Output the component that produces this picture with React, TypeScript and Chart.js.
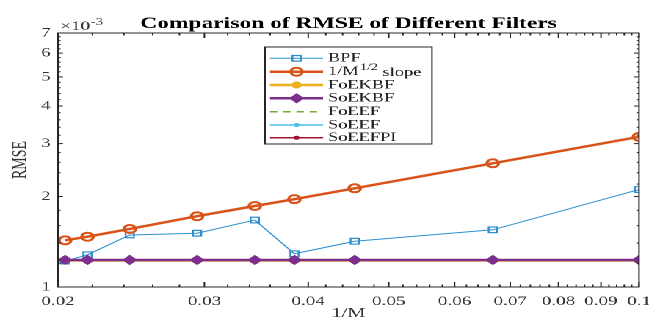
import React, { useEffect, useRef } from "react";
import { Chart, registerables } from "chart.js";

Chart.register(...registerables);

// ---- data (RMSE in units of 1e-3) ----
const invM = [0.0204, 0.0217, 0.0244, 0.0294, 0.0345, 0.0385, 0.0455, 0.0667, 0.1];
const bpf = [1.22, 1.28, 1.49, 1.51, 1.67, 1.29, 1.42, 1.55, 2.11];
const slope = [1.43, 1.47, 1.56, 1.72, 1.86, 1.96, 2.13, 2.58, 3.16];
const foekbf = [1.225, 1.225, 1.225, 1.225, 1.225, 1.225, 1.225, 1.225, 1.225];
const soekbf = [1.23, 1.23, 1.23, 1.23, 1.23, 1.23, 1.23, 1.23, 1.23];
const foeef = [1.23, 1.23, 1.23, 1.23, 1.23, 1.23, 1.23, 1.23, 1.23];
const soeef = [1.23, 1.23, 1.23, 1.23, 1.23, 1.23, 1.23, 1.23, 1.23];
const soeefpi = [1.23, 1.23, 1.23, 1.23, 1.23, 1.23, 1.23, 1.23, 1.23];

const seriesLabels = ["BPF", "1/M^1/2 slope", "FoEKBF", "SoEKBF", "FoEEF", "SoEEF", "SoEEFPI"];
const xTicks = [0.02, 0.03, 0.04, 0.05, 0.06, 0.07, 0.08, 0.09, 0.1];
const xTickLabels = ["0.02", "0.03", "0.04", "0.05", "0.06", "0.07", "0.08", "0.09", "0.1"];
const yTicks = [1, 2, 3, 4, 5, 6, 7];
const yTickLabels = ["1", "2", "3", "4", "5", "6", "7"];

// minor tick positions (axis decoration only)
const xMinor: number[] = [];
for (let i = 10; i < 50; i++) if (i % 5 !== 0) xMinor.push(i * 0.002);
const yMinor: number[] = [];
for (let i = 5; i < 35; i++) if (i % 5 !== 0) yMinor.push(i * 0.2);

const W = 442;
const H = 320;
const SX = 649 / W;
const FONT = '"Liberation Serif", "DejaVu Serif", serif';
const AX = "#262626";

const pts = (ys: number[]) => invM.map((x, i) => ({ x, y: ys[i] }));

const decor = {
  id: "decor",
  afterDraw(chart: any) {
    const ctx = chart.ctx as CanvasRenderingContext2D;
    const a = chart.chartArea;
    const xs = chart.scales.x;
    const ys = chart.scales.y;
    ctx.save();
    ctx.strokeStyle = AX;
    ctx.lineWidth = 1;
    ctx.strokeRect(a.left, a.top, a.right - a.left, a.bottom - a.top);
    const seg = (x1: number, y1: number, x2: number, y2: number) => {
      ctx.beginPath();
      ctx.moveTo(x1, y1);
      ctx.lineTo(x2, y2);
      ctx.stroke();
    };
    xTicks.forEach((v) => {
      const p = xs.getPixelForValue(v);
      seg(p, a.bottom, p, a.bottom - 5);
      seg(p, a.top, p, a.top + 5);
    });
    xMinor.forEach((v) => {
      const p = xs.getPixelForValue(v);
      seg(p, a.bottom, p, a.bottom - 2.5);
      seg(p, a.top, p, a.top + 2.5);
    });
    yTicks.forEach((v) => {
      const p = ys.getPixelForValue(v);
      seg(a.left, p, a.left + 3.4, p);
      seg(a.right, p, a.right - 3.4, p);
    });
    yMinor.forEach((v) => {
      const p = ys.getPixelForValue(v);
      seg(a.left, p, a.left + 1.8, p);
      seg(a.right, p, a.right - 1.8, p);
    });

    // title
    ctx.fillStyle = "#000";
    ctx.textAlign = "center";
    ctx.textBaseline = "alphabetic";
    ctx.font = `bold 16px ${FONT}`;
    ctx.fillText("Comparison of RMSE of Different Filters", (a.left + a.right) / 2, 28);

    // exponent
    ctx.fillStyle = "#333";
    ctx.textAlign = "left";
    ctx.font = `13px ${FONT}`;
    ctx.fillText("\u00d710", 41, 30);
    const w10 = ctx.measureText("\u00d710").width;
    ctx.font = `10px ${FONT}`;
    ctx.fillText("-3", 41 + w10 + 0.5, 25);

    // axis titles
    ctx.font = `14px ${FONT}`;
    ctx.textAlign = "center";
    ctx.fillText("1/M", (a.left + a.right) / 2, 317);
    ctx.save();
    ctx.translate(14, (a.top + a.bottom) / 2);
    ctx.rotate(-Math.PI / 2);
    ctx.textBaseline = "middle";
    ctx.fillText("RMSE", 0, 0);
    ctx.restore();

    // legend
    const lx0 = 180.5, lx1 = 294.2, ly0 = 47, ly1 = 144;
    ctx.fillStyle = "#fff";
    ctx.fillRect(lx0, ly0, lx1 - lx0, ly1 - ly0);
    ctx.strokeStyle = AX;
    ctx.lineWidth = 1;
    ctx.strokeRect(lx0, ly0, lx1 - lx0, ly1 - ly0);
    const rowY = [58.3, 71.7, 85, 98.3, 111.7, 125, 137.7];
    const byLabel: any = {};
    chart.data.datasets.forEach((d: any) => (byLabel[d.label] = d));
    seriesLabels.forEach((lab, i) => {
      const d = byLabel[lab];
      const y = rowY[i];
      ctx.save();
      ctx.strokeStyle = d.borderColor;
      ctx.lineWidth = d.borderWidth;
      ctx.setLineDash(d.borderDash || []);
      seg(183.9, y, 220, y);
      ctx.setLineDash([]);
      drawMarker(ctx, d, 202, y);
      ctx.restore();
      ctx.fillStyle = "#222";
      ctx.textAlign = "left";
      ctx.textBaseline = "middle";
      ctx.font = `12.5px ${FONT}`;
      if (i === 1) {
        ctx.fillText("1/M", 223.4, y);
        let w = ctx.measureText("1/M").width;
        ctx.font = `9.5px ${FONT}`;
        ctx.fillText("1/2", 223.4 + w + 1, y - 4);
        const w2 = ctx.measureText("1/2").width;
        ctx.font = `12.5px ${FONT}`;
        ctx.fillText(" slope", 223.4 + w + 1 + w2, y + 1);
      } else {
        ctx.fillText(lab, 223.4, y);
      }
    });
    ctx.restore();
  },
};

function drawMarker(ctx: CanvasRenderingContext2D, d: any, x: number, y: number) {
  const r = d.pointRadius;
  if (!r) return;
  ctx.beginPath();
  if (d.pointStyle === "rect") {
    const s = Math.SQRT1_2 * r;
    ctx.rect(x - s, y - s, 2 * s, 2 * s);
  } else if (d.pointStyle === "rectRot") {
    ctx.moveTo(x - r, y);
    ctx.lineTo(x, y - r);
    ctx.lineTo(x + r, y);
    ctx.lineTo(x, y + r);
    ctx.closePath();
  } else {
    ctx.arc(x, y, r, 0, Math.PI * 2);
  }
  ctx.fillStyle = d.pointBackgroundColor;
  ctx.fill();
  ctx.strokeStyle = d.pointBorderColor;
  ctx.lineWidth = d.pointBorderWidth;
  ctx.stroke();
}

export default function App() {
  const ref = useRef<HTMLCanvasElement | null>(null);
  useEffect(() => {
    if (!ref.current) return;
    const base = { fill: false, tension: 0, spanGaps: true };
    const chart = new Chart(ref.current, {
      type: "line",
      data: {
        datasets: [
          {
            ...base,
            label: seriesLabels[6],
            data: pts(soeefpi),
            borderColor: "#A2142F",
            borderWidth: 1.5,
            pointStyle: "circle",
            pointRadius: 1.5,
            pointBackgroundColor: "#A2142F",
            pointBorderColor: "#A2142F",
            pointBorderWidth: 1,
            order: 5,
          },
          {
            ...base,
            label: seriesLabels[5],
            data: pts(soeef),
            borderColor: "#4DBEEE",
            borderWidth: 1.5,
            pointStyle: "circle",
            pointRadius: 1.5,
            pointBackgroundColor: "#4DBEEE",
            pointBorderColor: "#4DBEEE",
            pointBorderWidth: 1,
            order: 4,
          },
          {
            ...base,
            label: seriesLabels[4],
            data: pts(foeef),
            borderColor: "#77AC30",
            borderWidth: 1.5,
            borderDash: [5, 4],
            pointRadius: 0,
            pointBackgroundColor: "#77AC30",
            pointBorderColor: "#77AC30",
            pointBorderWidth: 1,
            order: 3,
          },
          {
            ...base,
            label: seriesLabels[3],
            data: pts(soekbf),
            borderColor: "#7E2F8E",
            borderWidth: 2.5,
            pointStyle: "rectRot",
            pointRadius: 4.5,
            pointBackgroundColor: "#7E2F8E",
            pointBorderColor: "#7E2F8E",
            pointBorderWidth: 1,
            order: 0,
          },
          {
            ...base,
            label: seriesLabels[2],
            data: pts(foekbf),
            borderColor: "#EDB120",
            borderWidth: 2.5,
            pointStyle: "circle",
            pointRadius: 3,
            pointBackgroundColor: "#EDB120",
            pointBorderColor: "#EDB120",
            pointBorderWidth: 1,
            order: 6,
          },
          {
            ...base,
            label: seriesLabels[1],
            data: pts(slope),
            borderColor: "#D95319",
            borderWidth: 2.5,
            pointStyle: "circle",
            pointRadius: 4,
            pointBackgroundColor: "rgba(255,255,255,0)",
            pointBorderColor: "#D95319",
            pointBorderWidth: 2,
            order: 1,
          },
          {
            ...base,
            label: seriesLabels[0],
            data: pts(bpf),
            borderColor: "#2E8FCF",
            borderWidth: 1,
            pointStyle: "rect",
            pointRadius: 4,
            pointBackgroundColor: "rgba(255,255,255,0)",
            pointBorderColor: "#2E8FCF",
            pointBorderWidth: 1.2,
            order: 2,
          },
        ],
      },
      options: {
        animation: false,
        responsive: true,
        maintainAspectRatio: false,
        devicePixelRatio: 2,
        layout: { padding: { left: 0, right: W - 435.2, top: 33, bottom: 0 } },
        plugins: { legend: { display: false }, title: { display: false }, tooltip: { enabled: false } },
        events: [],
        scales: {
          x: {
            type: "logarithmic",
            min: 0.02,
            max: 0.1,
            grid: { display: false, drawTicks: false },
            border: { display: false },
            afterBuildTicks: (s: any) => {
              s.ticks = xTicks.map((v) => ({ value: v }));
            },
            afterFit: (s: any) => {
              s.height = H - 287;
              s.paddingLeft = 0;
              s.paddingRight = 0;
            },
            ticks: {
              autoSkip: false,
              maxRotation: 0,
              minRotation: 0,
              padding: 7,
              color: "#333",
              font: { family: FONT, size: 13 },
              callback: (v: any) => {
                const i = xTicks.findIndex((t) => Math.abs(t - Number(v)) < 1e-9);
                return i >= 0 ? xTickLabels[i] : "";
              },
            },
          },
          y: {
            type: "logarithmic",
            min: 1,
            max: 7,
            grid: { display: false, drawTicks: false },
            border: { display: false },
            afterBuildTicks: (s: any) => {
              s.ticks = yTicks.map((v) => ({ value: v }));
            },
            afterFit: (s: any) => {
              s.width = 39.5;
              s.paddingTop = 0;
              s.paddingBottom = 0;
            },
            ticks: {
              autoSkip: false,
              padding: 5,
              color: "#333",
              font: { family: FONT, size: 13 },
              callback: (v: any) => {
                const i = yTicks.findIndex((t) => Math.abs(t - Number(v)) < 1e-9);
                return i >= 0 ? yTickLabels[i] : "";
              },
            },
          },
        },
      },
      plugins: [decor],
    } as any);
    return () => chart.destroy();
  }, []);

  return (
    <div
      style={{
        position: "fixed",
        left: 0,
        top: 0,
        width: W,
        height: H,
        transform: `scaleX(${SX})`,
        transformOrigin: "0 0",
        background: "#fff",
      }}
    >
      <canvas ref={ref} />
    </div>
  );
}
